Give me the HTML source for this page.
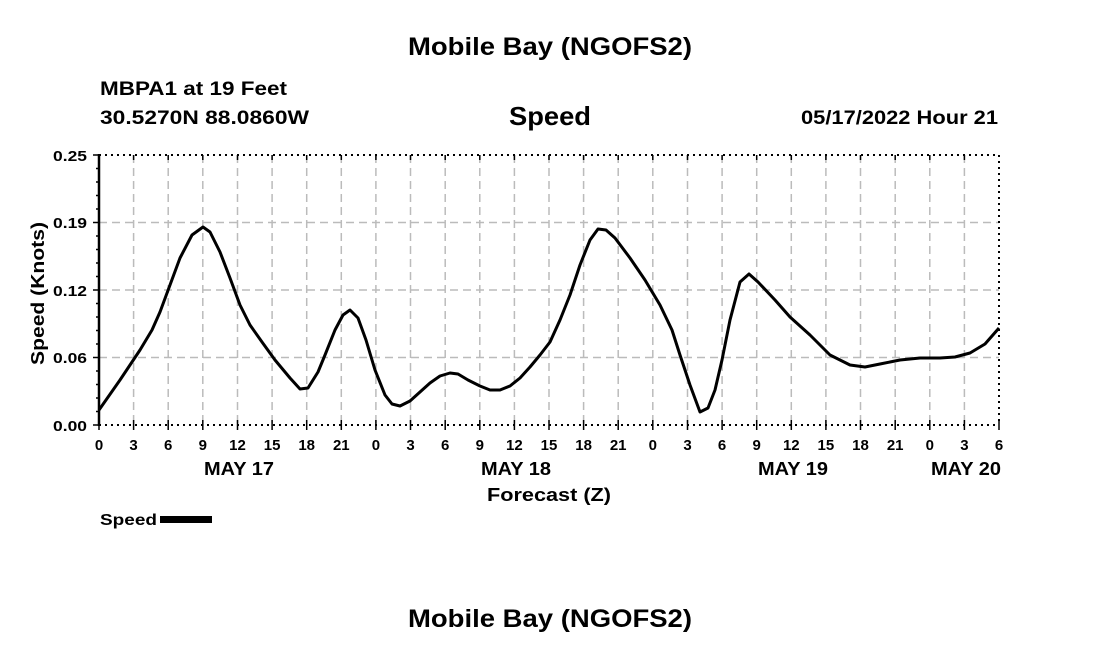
<!DOCTYPE html>
<html><head><style>body{margin:0;background:#fff}</style></head><body>
<svg width="1100" height="650" xmlns="http://www.w3.org/2000/svg" font-family="Liberation Sans, Arial, sans-serif" font-weight="bold">
<rect width="1100" height="650" fill="#fff"/>
<text x="408" y="55" font-size="25" textLength="284" lengthAdjust="spacingAndGlyphs">Mobile Bay (NGOFS2)</text>
<text x="100" y="95" font-size="19" textLength="187" lengthAdjust="spacingAndGlyphs">MBPA1 at 19 Feet</text>
<text x="100" y="124" font-size="19" textLength="209" lengthAdjust="spacingAndGlyphs">30.5270N  88.0860W</text>
<text x="509" y="125" font-size="26" textLength="82" lengthAdjust="spacingAndGlyphs">Speed</text>
<text x="801" y="124" font-size="19" textLength="197" lengthAdjust="spacingAndGlyphs">05/17/2022 Hour 21</text>
<g stroke="#bbb" stroke-width="1.5" stroke-dasharray="8,5">
<line x1="99" y1="357.5" x2="999" y2="357.5"/><line x1="99" y1="290" x2="999" y2="290"/><line x1="99" y1="222.5" x2="999" y2="222.5"/>
<line x1="133.6" y1="155" x2="133.6" y2="425"/><line x1="168.2" y1="155" x2="168.2" y2="425"/><line x1="202.8" y1="155" x2="202.8" y2="425"/><line x1="237.5" y1="155" x2="237.5" y2="425"/><line x1="272.1" y1="155" x2="272.1" y2="425"/><line x1="306.7" y1="155" x2="306.7" y2="425"/><line x1="341.3" y1="155" x2="341.3" y2="425"/><line x1="375.9" y1="155" x2="375.9" y2="425"/><line x1="410.5" y1="155" x2="410.5" y2="425"/><line x1="445.2" y1="155" x2="445.2" y2="425"/><line x1="479.8" y1="155" x2="479.8" y2="425"/><line x1="514.4" y1="155" x2="514.4" y2="425"/><line x1="549" y1="155" x2="549" y2="425"/><line x1="583.6" y1="155" x2="583.6" y2="425"/><line x1="618.2" y1="155" x2="618.2" y2="425"/><line x1="652.8" y1="155" x2="652.8" y2="425"/><line x1="687.5" y1="155" x2="687.5" y2="425"/><line x1="722.1" y1="155" x2="722.1" y2="425"/><line x1="756.7" y1="155" x2="756.7" y2="425"/><line x1="791.3" y1="155" x2="791.3" y2="425"/><line x1="825.9" y1="155" x2="825.9" y2="425"/><line x1="860.5" y1="155" x2="860.5" y2="425"/><line x1="895.2" y1="155" x2="895.2" y2="425"/><line x1="929.8" y1="155" x2="929.8" y2="425"/><line x1="964.4" y1="155" x2="964.4" y2="425"/>
</g>
<g stroke="#000" stroke-width="2" stroke-dasharray="2,4">
<line x1="99" y1="155" x2="999" y2="155"/><line x1="99" y1="425" x2="999" y2="425"/><line x1="999" y1="155" x2="999" y2="425"/>
</g>
<line x1="99" y1="154" x2="99" y2="426" stroke="#000" stroke-width="2.5"/>
<g stroke="#000" stroke-width="1.5">
<line x1="93" y1="155" x2="99" y2="155"/><line x1="93" y1="222.5" x2="99" y2="222.5"/><line x1="93" y1="290" x2="99" y2="290"/><line x1="93" y1="357.5" x2="99" y2="357.5"/><line x1="93" y1="425" x2="99" y2="425"/>
<path d="M96 168.5h3M96 182h3M96 195.5h3M96 209h3M96 236h3M96 249.5h3M96 263h3M96 276.5h3M96 303.5h3M96 317h3M96 330.5h3M96 344h3M96 371h3M96 384.5h3M96 398h3M96 411.5h3"/>
<path d="M99 420v10M133.6 420v10M168.2 420v10M202.8 420v10M237.5 420v10M272.1 420v10M306.7 420v10M341.3 420v10M375.9 420v10M410.5 420v10M445.2 420v10M479.8 420v10M514.4 420v10M549 420v10M583.6 420v10M618.2 420v10M652.8 420v10M687.5 420v10M722.1 420v10M756.7 420v10M791.3 420v10M825.9 420v10M860.5 420v10M895.2 420v10M929.8 420v10M964.4 420v10M999 420v10"/>
<path d="M133.6 155v5M168.2 155v5M202.8 155v5M237.5 155v5M272.1 155v5M306.7 155v5M341.3 155v5M375.9 155v5M410.5 155v5M445.2 155v5M479.8 155v5M514.4 155v5M549 155v5M583.6 155v5M618.2 155v5M652.8 155v5M687.5 155v5M722.1 155v5M756.7 155v5M791.3 155v5M825.9 155v5M860.5 155v5M895.2 155v5M929.8 155v5M964.4 155v5"/>
</g>
<g font-size="15" text-anchor="end">
<text x="87" y="161" textLength="34" lengthAdjust="spacingAndGlyphs">0.25</text><text x="87" y="228" textLength="34" lengthAdjust="spacingAndGlyphs">0.19</text><text x="87" y="296" textLength="34" lengthAdjust="spacingAndGlyphs">0.12</text><text x="87" y="363" textLength="34" lengthAdjust="spacingAndGlyphs">0.06</text><text x="87" y="431" textLength="34" lengthAdjust="spacingAndGlyphs">0.00</text>
</g>
<g font-size="15" text-anchor="middle">
<text x="99" y="450">0</text><text x="133.6" y="450">3</text><text x="168.2" y="450">6</text><text x="202.8" y="450">9</text><text x="237.5" y="450">12</text><text x="272.1" y="450">15</text><text x="306.7" y="450">18</text><text x="341.3" y="450">21</text><text x="375.9" y="450">0</text><text x="410.5" y="450">3</text><text x="445.2" y="450">6</text><text x="479.8" y="450">9</text><text x="514.4" y="450">12</text><text x="549" y="450">15</text><text x="583.6" y="450">18</text><text x="618.2" y="450">21</text><text x="652.8" y="450">0</text><text x="687.5" y="450">3</text><text x="722.1" y="450">6</text><text x="756.7" y="450">9</text><text x="791.3" y="450">12</text><text x="825.9" y="450">15</text><text x="860.5" y="450">18</text><text x="895.2" y="450">21</text><text x="929.8" y="450">0</text><text x="964.4" y="450">3</text><text x="999" y="450">6</text>
</g>
<g font-size="18">
<text x="204" y="475" textLength="70" lengthAdjust="spacingAndGlyphs">MAY 17</text><text x="481" y="475" textLength="70" lengthAdjust="spacingAndGlyphs">MAY 18</text><text x="758" y="475" textLength="70" lengthAdjust="spacingAndGlyphs">MAY 19</text><text x="931" y="475" textLength="70" lengthAdjust="spacingAndGlyphs">MAY 20</text>
<text x="487" y="501" textLength="124" lengthAdjust="spacingAndGlyphs">Forecast (Z)</text>
<text transform="translate(44,365) rotate(-90)" textLength="143" lengthAdjust="spacingAndGlyphs">Speed (Knots)</text>
</g>
<polyline fill="none" stroke="#000" stroke-width="3" stroke-linejoin="round" points="99,410 120,380 140,350 152,330 160,312 170,285 180,258 192,235 203,227 210,232 220,252 230,278 240,305 250,325 262,342 275,360 290,378 300,389 308,388 318,372 325,355 335,330 343,315 350,310 358,318 366,340 375,370 385,395 392,404 400,406 410,401 420,392 430,383 440,376 450,373 458,374 468,380 480,386 490,390 500,390 510,386 520,378 530,367 540,355 550,342 560,320 570,295 580,265 590,240 598,229 606,230 615,238 630,258 645,280 660,305 672,330 680,355 690,385 700,412 708,408 715,390 722,360 730,320 740,282 749,274 758,282 775,300 790,317 810,335 830,355 850,365 865,367 880,364 900,360 920,358 940,358 955,357 970,353 985,344 999,328"/>
<text x="100" y="525" font-size="16" textLength="57" lengthAdjust="spacingAndGlyphs">Speed</text>
<rect x="160" y="516" width="52" height="7" fill="#000"/>
<text x="408" y="627" font-size="25" textLength="284" lengthAdjust="spacingAndGlyphs">Mobile Bay (NGOFS2)</text>
</svg>
</body></html>
